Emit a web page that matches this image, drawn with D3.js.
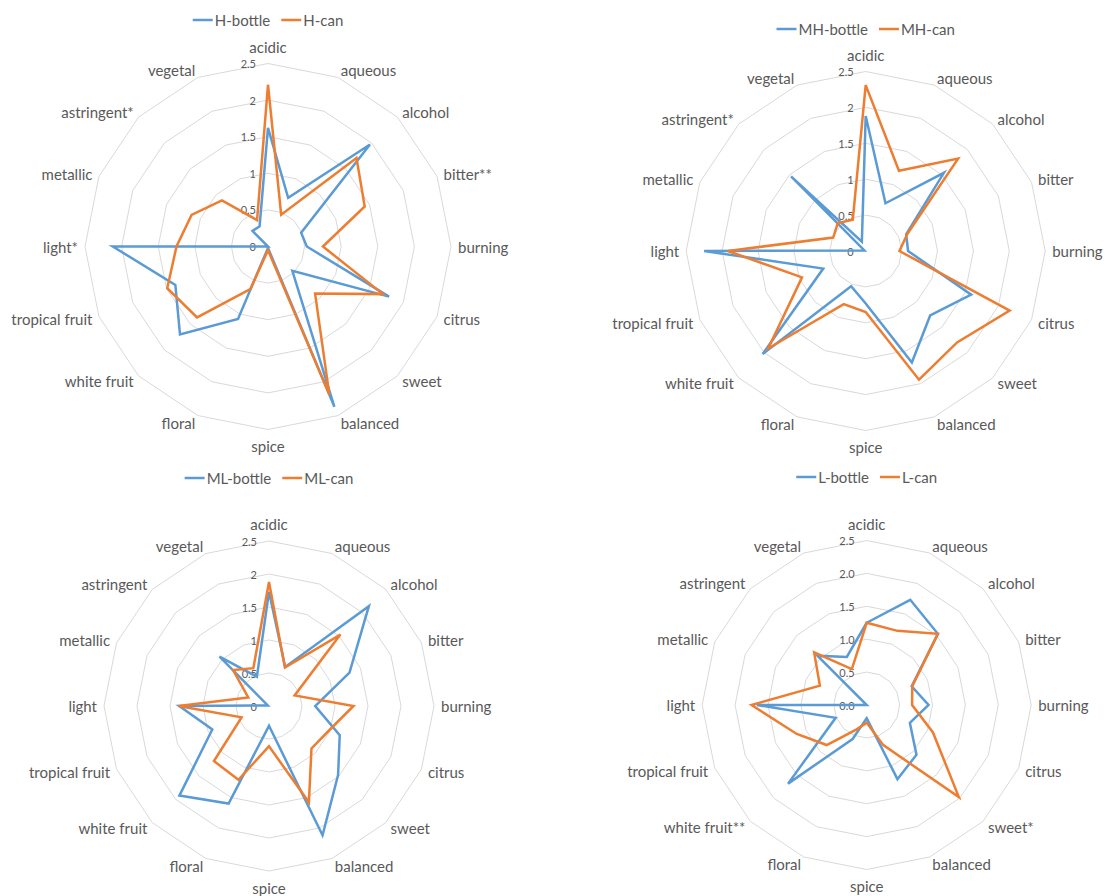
<!DOCTYPE html>
<html>
<head>
<meta charset="utf-8">
<script src="https://cdn.jsdelivr.net/npm/d3@7"></script>
<style>
  html, body { margin: 0; padding: 0; background: #fff; }
  svg { display: block; font-family: Lato, "Open Sans", sans-serif; }
</style>
</head>
<body>
<svg id="chart" width="1105" height="896"></svg>
<script>
// Sensory attribute labels (asterisks mark significant differences per style)
const labelsH  = ["acidic","aqueous","alcohol","bitter**","burning","citrus","sweet","balanced","spice","floral","white fruit","tropical fruit","light*","metallic","astringent*","vegetal"];
const labelsMH = ["acidic","aqueous","alcohol","bitter","burning","citrus","sweet","balanced","spice","floral","white fruit","tropical fruit","light","metallic","astringent*","vegetal"];
const labelsML = ["acidic","aqueous","alcohol","bitter","burning","citrus","sweet","balanced","spice","floral","white fruit","tropical fruit","light","metallic","astringent","vegetal"];
const labelsL  = ["acidic","aqueous","alcohol","bitter","burning","citrus","sweet*","balanced","spice","floral","white fruit**","tropical fruit","light","metallic","astringent","vegetal"];

// Mean intensity scores, same attribute order as the labels
const hBottle  = [1.62, 0.72, 1.97, 0.49, 0.53, 1.79, 0.47, 2.37, 0.02, 1.07, 1.70, 1.37, 2.12, 0.00, 0.30, 0.30];
const hCan     = [2.21, 0.47, 1.71, 1.43, 0.75, 1.70, 0.91, 2.19, 0.05, 0.63, 1.37, 1.49, 1.25, 1.13, 0.89, 0.39];
const mhBottle = [1.88, 0.72, 1.54, 0.61, 0.59, 1.59, 1.27, 1.68, 0.73, 0.53, 2.03, 0.64, 2.25, 0.02, 1.47, 0.14];
const mhCan    = [2.31, 1.21, 1.82, 0.63, 0.47, 2.17, 1.80, 1.94, 0.85, 0.80, 1.92, 0.96, 1.92, 0.49, 0.55, 0.47];
const mlBottle = [1.73, 0.64, 2.14, 1.32, 0.70, 1.16, 1.48, 2.12, 0.30, 1.60, 1.92, 0.93, 1.36, 0.02, 1.06, 0.48];
const mlCan    = [1.88, 0.63, 1.53, 0.42, 1.28, 0.98, 0.91, 1.58, 0.61, 1.21, 1.18, 0.45, 1.37, 0.34, 0.77, 0.62];
const lBottle  = [1.25, 1.73, 1.53, 0.74, 0.94, 0.71, 1.07, 1.22, 0.20, 0.56, 1.69, 0.51, 1.67, 0.00, 1.06, 0.79];
const lCan     = [1.25, 1.22, 1.53, 0.75, 0.69, 1.09, 1.98, 0.66, 0.27, 0.40, 0.86, 1.15, 1.75, 0.77, 1.13, 0.59];

const tickValues = [0, 0.5, 1, 1.5, 2, 2.5];
const seriesColors = ["#5B9BD5", "#ED7D31"];

const panels = [
  { labels: labelsH,  names: ["H-bottle", "H-can"],   series: [hBottle, hCan],   fmt: d => String(d),
    cx: 268,   cy: 246.5, r: 183,   legendY: 20 },
  { labels: labelsMH, names: ["MH-bottle", "MH-can"], series: [mhBottle, mhCan], fmt: d => String(d),
    cx: 865.7, cy: 251,   r: 179.5, legendY: 29 },
  { labels: labelsML, names: ["ML-bottle", "ML-can"], series: [mlBottle, mlCan], fmt: d => String(d),
    cx: 269,   cy: 706,   r: 165,   legendY: 478 },
  { labels: labelsL,  names: ["L-bottle", "L-can"],   series: [lBottle, lCan],   fmt: d3.format(".1f"),
    cx: 866.7, cy: 705,   r: 164.5, legendY: 477 }
];

const svg = d3.select("#chart");
const textColor = "#595959";
const gridColor = "#D9D9D9";
const labelSize = 15;

function drawRadar(p) {
  const n = p.labels.length;
  const g = svg.append("g").attr("transform", `translate(${p.cx},${p.cy})`);
  const rScale = d3.scaleLinear().domain([0, 2.5]).range([0, p.r]);
  const angle = d3.scaleLinear().domain([0, n]).range([0, 2 * Math.PI]);
  const idx = d3.range(n);

  // concentric polygon grid
  const ring = v => d3.lineRadial()
      .angle(i => angle(i))
      .radius(() => rScale(v))
      .curve(d3.curveLinearClosed)(idx);
  g.append("g").selectAll("path")
    .data(tickValues.filter(v => v > 0))
    .join("path")
      .attr("d", v => ring(v))
      .attr("fill", "none")
      .attr("stroke", gridColor)
      .attr("stroke-width", 1);

  // value ticks along the top axis
  g.append("g").selectAll("text")
    .data(tickValues)
    .join("text")
      .attr("x", -12)
      .attr("y", v => -rScale(v))
      .attr("text-anchor", "end")
      .attr("dominant-baseline", "central")
      .attr("font-size", 11)
      .attr("fill", textColor)
      .text(p.fmt);

  // category labels around the outer ring
  g.append("g").selectAll("text")
    .data(idx)
    .join("text")
      .attr("x", i => {
        const s = Math.sin(angle(i));
        return p.r * s + s * 7;
      })
      .attr("y", i => {
        const s = Math.sin(angle(i)), c = Math.cos(angle(i));
        const extra = Math.abs(s) < 0.1 ? 10 : 1;
        return -p.r * c - c * (labelSize * 0.45) - c * extra;
      })
      .attr("text-anchor", i => {
        const s = Math.sin(angle(i));
        return s > 0.1 ? "start" : s < -0.1 ? "end" : "middle";
      })
      .attr("dominant-baseline", "central")
      .attr("font-size", labelSize)
      .attr("fill", textColor)
      .text(i => p.labels[i]);

  // data series
  const line = d3.lineRadial()
    .angle((d, i) => angle(i))
    .radius(d => rScale(d))
    .curve(d3.curveLinearClosed);
  g.append("g").selectAll("path")
    .data(p.series)
    .join("path")
      .attr("d", d => line(d))
      .attr("fill", "none")
      .attr("stroke", (d, i) => seriesColors[i])
      .attr("stroke-width", 2.5)
      .attr("stroke-linejoin", "miter");

  // legend centred above the plot
  const lg = svg.append("g");
  let x = 0;
  const items = [];
  p.names.forEach((name, i) => {
    const it = lg.append("g").attr("transform", `translate(${x},0)`);
    it.append("line")
      .attr("x1", 0).attr("x2", 20).attr("y1", 0).attr("y2", 0)
      .attr("stroke", seriesColors[i]).attr("stroke-width", 2.5);
    const t = it.append("text")
      .attr("x", 22).attr("y", 0)
      .attr("dominant-baseline", "central")
      .attr("font-size", labelSize)
      .attr("fill", textColor)
      .text(name);
    const w = t.node().getComputedTextLength();
    items.push(it);
    x += 22 + w + 11;
  });
  const total = x - 11;
  lg.attr("transform", `translate(${p.cx - total / 2},${p.legendY})`);
}

panels.forEach(drawRadar);
</script>
</body>
</html>
